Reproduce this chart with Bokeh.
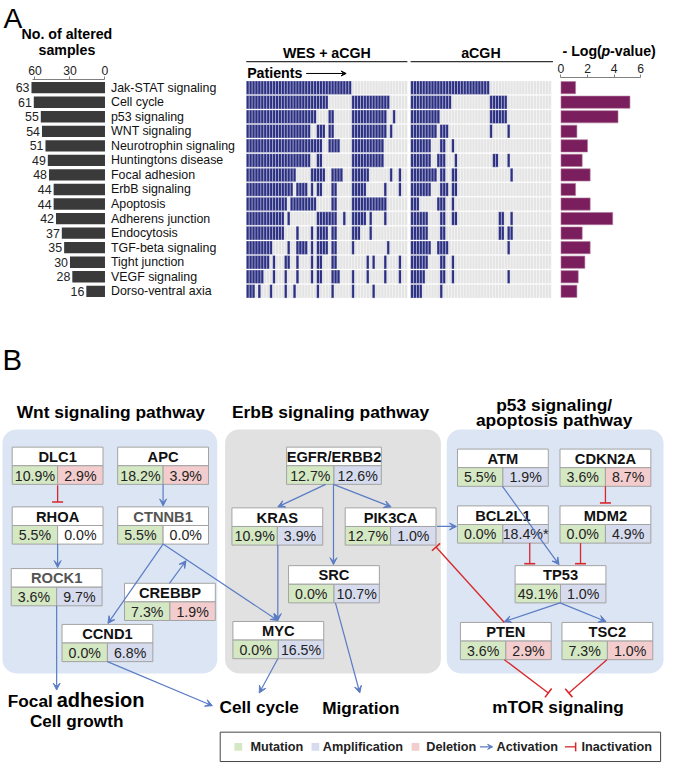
from bokeh.plotting import figure
from bokeh.models import Range1d, LinearAxis, FixedTicker, BoxAnnotation, Arrow, VeeHead, TeeHead
from bokeh.core.properties import value
from bokeh.embed import file_html
from bokeh.resources import INLINE

# ---------------- data: panel A ----------------
pathways = ["Jak-STAT signaling", "Cell cycle", "p53 signaling", "WNT signaling",
            "Neurotrophin signaling", "Huntingtons disease", "Focal adhesion",
            "ErbB signaling", "Apoptosis", "Adherens junction", "Endocytosis",
            "TGF-beta signaling", "Tight junction", "VEGF signaling", "Dorso-ventral axia"]
altered_samples = [63, 61, 55, 54, 51, 49, 48, 44, 44, 42, 37, 35, 30, 28, 16]
neg_log_p = [1.1, 5.2, 4.3, 1.2, 2.0, 1.6, 2.2, 1.1, 2.2, 3.9, 1.6, 2.2, 1.8, 1.3, 1.2]
count_ticks = [0, 30, 60]
pvalue_ticks = [0, 2, 4, 6]
n_wes_samples = 55
n_acgh_samples = 48
# altered samples per pathway, as runs [start, end) of patient columns
wes_altered = [
    [(0, 36)],
    [(0, 28), (36, 49)],
    [(0, 24), (28, 30), (36, 48), (50, 51)],
    [(0, 22), (24, 27), (28, 30), (36, 48), (49, 50)],
    [(0, 26), (28, 32), (36, 47)],
    [(0, 22), (24, 26), (36, 47)],
    [(0, 17), (22, 27), (29, 33), (36, 42), (49, 50), (52, 53)],
    [(0, 16), (17, 21), (22, 23), (24, 26), (29, 31), (36, 41), (47, 48), (52, 53)],
    [(0, 14), (15, 24), (29, 31), (36, 48)],
    [(0, 13), (14, 15), (24, 31), (33, 34), (36, 41), (42, 43), (47, 48)],
    [(0, 13), (17, 18), (22, 23), (24, 28), (29, 31), (36, 39), (42, 43)],
    [(0, 9), (14, 15), (17, 21), (22, 23), (24, 28), (29, 31), (36, 37), (48, 49)],
    [(0, 8), (9, 10), (13, 15), (17, 18), (22, 23), (24, 26), (29, 31), (41, 42), (43, 44), (47, 48), (52, 53)],
    [(0, 6), (9, 10), (13, 14), (17, 18), (22, 23), (24, 26), (29, 32), (36, 37), (41, 42), (47, 48), (52, 53)],
    [(0, 3), (4, 5), (8, 9), (13, 14), (16, 17), (24, 25), (29, 30), (36, 37), (43, 44)],
]
acgh_altered = [
    [(0, 27)],
    [(0, 14), (27, 33)],
    [(0, 10), (27, 33)],
    [(0, 9), (10, 13), (27, 28), (33, 34)],
    [(0, 7), (10, 12), (14, 15)],
    [(0, 7), (9, 12), (15, 16), (28, 30), (33, 34)],
    [(0, 7), (7, 9), (10, 12), (14, 16), (34, 35)],
    [(0, 7), (10, 13), (14, 16)],
    [(0, 3), (9, 12), (14, 15)],
    [(0, 6), (10, 12), (14, 16), (30, 32), (34, 35)],
    [(0, 6), (10, 12), (30, 32), (33, 35)],
    [(0, 7), (9, 13), (33, 34)],
    [(0, 6), (10, 12), (14, 15)],
    [(0, 5), (10, 12), (14, 15), (33, 34)],
    [(0, 4), (10, 11)],
]

# ---------------- data: panel B ----------------
genes = ["DLC1", "APC", "RHOA", "CTNNB1", "ROCK1", "CREBBP", "CCND1",
         "EGFR/ERBB2", "KRAS", "PIK3CA", "SRC", "MYC",
         "ATM", "CDKN2A", "BCL2L1", "MDM2", "TP53", "PTEN", "TSC2"]
mutation_pct = [10.9, 18.2, 5.5, 5.5, 3.6, 7.3, 0.0,
                12.7, 10.9, 12.7, 0.0, 0.0,
                5.5, 3.6, 0.0, 0.0, 49.1, 3.6, 7.3]
cnv_pct = [2.9, 3.9, 0.0, 0.0, 9.7, 1.9, 6.8,
           12.6, 3.9, 1.0, 10.7, 16.5,
           1.9, 8.7, 18.4, 4.9, 1.0, 2.9, 1.0]
cnv_kind = ["del", "del", "none", "none", "amp", "del", "amp",
            "amp", "amp", "amp", "amp", "amp",
            "amp", "del", "amp", "amp", "amp", "del", "del"]
cnv_note = ["", "", "", "", "", "", "", "", "", "", "", "",
            "", "", "*", "", "", "", ""]
gene_text_color = ["#111", "#111", "#111", "#555", "#555", "#111", "#111",
                   "#111", "#111", "#111", "#111", "#111",
                   "#111", "#111", "#111", "#111", "#111", "#111", "#111"]
legend_items = ["Mutation", "Amplification", "Deletion", "Activation", "Inactivation"]
outcomes = ["Cell growth", "Cell cycle", "Migration", "mTOR signaling"]

# ---------------- layout (reference pixel frame 680 x 779) ----------------
K = 0.977
FONT = value("Liberation Sans")


def fs(px):
    return value(f"{px * K:.1f}px")


ROW0, PITCH = 89.0, 14.85          # pathway rows
CNT0, CNT_PX = 107.0, 1.195        # count axis
HX0, CW = 251.7, 3.0               # heatmap columns
ACGH_OFF = 56.1
PX0, P_PX = 574.0, 13.58           # -log p axis

NAVY = "#2c3082"
HEAT_BG = "#e4e4e4"
BAR_DARK = "#3a3a3a"
PURPLE = "#7b1e5d"
PANEL_BLUE = "#dce5f3"
PANEL_GRAY = "#e1e1e1"
MUT = "#d5e8c4"
AMP = "#d6dcee"
DEL = "#f3cdcd"
BLUE = "#5a7cc4"
RED = "#d8262a"
BORDER = "#a3a3a3"

p = figure(width=664, height=763, x_range=Range1d(0, 680), y_range=Range1d(779, 0),
           output_backend="svg", toolbar_location=None,
           x_axis_location=None, y_axis_location=None, min_border=0,
           outline_line_color=None, background_fill_color="white")
p.grid.visible = False

p.extra_x_ranges = {
    "cnt": Range1d(CNT0 / CNT_PX, (CNT0 - 680) / CNT_PX),
    "col": Range1d(-HX0 / CW, (680 - HX0) / CW),
    "pval": Range1d(-PX0 / P_PX, (680 - PX0) / P_PX),
}
p.extra_y_ranges = {"row": Range1d((779 - ROW0) / PITCH, -ROW0 / PITCH)}

rows = list(range(len(pathways)))
MID = "middle"

# ---------------- panel A ----------------
p.text(x=[3], y=[18], text=["A"], text_font=FONT, text_font_size=fs(29), text_color="black",
       text_baseline=MID)
p.text(x=[68, 68], y=[34.5, 50.5], text=["No. of altered", "samples"], text_font=FONT,
       text_font_size=fs(14.5), text_font_style="bold", text_align="center", text_baseline=MID)

p.hbar(y=rows, left=0, right=altered_samples, height=0.78, x_range_name="cnt",
       y_range_name="row", fill_color=BAR_DARK, line_color=None)
p.text(x=altered_samples, y=rows, text=[str(c) for c in altered_samples], x_range_name="cnt",
       y_range_name="row", x_offset=-2, text_align="right", text_baseline=MID,
       text_font=FONT, text_font_size=fs(12.7), text_color="#222")
p.text(x=[0] * len(rows), y=rows, text=pathways, x_range_name="cnt", y_range_name="row",
       x_offset=6, text_align="left", text_baseline=MID, text_font=FONT,
       text_font_size=fs(12.7), text_color="#111")

cnt_axis = LinearAxis(x_range_name="cnt", ticker=FixedTicker(ticks=count_ticks),
                      fixed_location=81, bounds=(0, 62.5))
pval_axis = LinearAxis(x_range_name="pval", ticker=FixedTicker(ticks=pvalue_ticks),
                       fixed_location=79, bounds=(0, 6))
for ax in (cnt_axis, pval_axis):
    ax.axis_line_color = "#808080"
    ax.major_tick_line_color = "#808080"
    ax.major_tick_out = 3
    ax.major_tick_in = 0
    ax.minor_tick_out = 0
    ax.minor_tick_in = 0
    ax.major_label_standoff = 2
    ax.major_label_text_font = "Liberation Sans"
    ax.major_label_text_font_size = f"{12.5 * K:.1f}px"
    ax.major_label_text_color = "#222"
    p.add_layout(ax, "above")

# heatmap
hx, hy, hc = [], [], []
for i in rows:
    ws = set()
    for a, b in wes_altered[i]:
        ws.update(range(a, b))
    for j in range(n_wes_samples):
        hx.append(j + 0.5)
        hy.append(i)
        hc.append(NAVY if j in ws else HEAT_BG)
    acs = set()
    for a, b in acgh_altered[i]:
        acs.update(range(a, b))
    for j in range(n_acgh_samples):
        hx.append(ACGH_OFF + j + 0.5)
        hy.append(i)
        hc.append(NAVY if j in acs else HEAT_BG)
p.rect(x=hx, y=hy, width=1, height=0.93, x_range_name="col", y_range_name="row",
       fill_color=hc, line_color="white", line_width=0.45, line_alpha=0.75)

p.segment(x0=[0, ACGH_OFF], x1=[n_wes_samples, ACGH_OFF + n_acgh_samples + 0.6],
          y0=[62.5, 62.5], y1=[62.5, 62.5], x_range_name="col", line_color="black",
          line_width=1)
p.text(x=[n_wes_samples / 2, ACGH_OFF + n_acgh_samples / 2], y=[54, 54],
       text=["WES + aCGH", "aCGH"], x_range_name="col", text_align="center",
       text_font=FONT, text_font_size=fs(14.5), text_font_style="bold", text_baseline=MID)
p.text(x=[0.3], y=[74.3], text=["Patients"], x_range_name="col", text_font=FONT,
       text_font_size=fs(14.5), text_font_style="bold", text_baseline=MID)
p.add_layout(Arrow(end=VeeHead(size=5, fill_color="black", line_color="black", line_width=1),
                   x_start=313, y_start=74.5, x_end=354, y_end=74.5, line_color="black",
                   line_width=1))

# -log p bars
p.hbar(y=rows, left=0, right=neg_log_p, height=0.84, x_range_name="pval",
       y_range_name="row", fill_color=PURPLE, line_color="#b07a9c", line_width=0.6)
p.text(x=[575.5], y=[51.5], text=["- Log("], text_font=FONT, text_font_size=fs(14.5),
       text_font_style="bold", text_baseline=MID)
p.text(x=[615.4], y=[51.5], text=["p"], text_font=FONT, text_font_size=fs(14.5),
       text_font_style="bold italic", text_baseline=MID)
p.text(x=[624.3], y=[51.5], text=["-value)"], text_font=FONT, text_font_size=fs(14.5),
       text_font_style="bold", text_baseline=MID)

# ---------------- panel B ----------------
p.text(x=[2], y=[367], text=["B"], text_font=FONT, text_font_size=fs(30), text_baseline=MID)

for (l, r, fc) in [(2, 222, PANEL_BLUE), (230, 451, PANEL_GRAY), (457, 679, PANEL_BLUE)]:
    p.add_layout(BoxAnnotation(left=l, right=r, top=438, bottom=687, fill_color=fc,
                               fill_alpha=1, line_color=None, border_radius=14,
                               level="underlay"))

p.text(x=[113, 338, 567, 567], y=[420, 420, 412.5, 428],
       text=["Wnt signaling pathway", "ErbB signaling pathway", "p53 signaling/",
             "apoptosis pathway"],
       text_align="center", text_font=FONT, text_font_size=fs(17.8),
       text_font_style="bold", text_baseline=MID)

box_left = [12, 120, 12, 120, 11, 127, 63, 293, 237, 353, 295, 238,
            468, 573, 468, 573, 527, 471, 575]
box_top = [456, 456, 517, 517, 580, 595, 637, 456, 518, 518, 577, 634,
           458, 458, 516, 516, 577, 635, 635]
box_w = [93] * len(genes)
box_w[genes.index("EGFR/ERBB2")] = 97
NH, PH = 19, 19

kind_color = {"amp": AMP, "del": DEL, "none": "white"}
bl = box_left
br = [l + w for l, w in zip(box_left, box_w)]
bm = [l + w / 2 for l, w in zip(box_left, box_w)]
nt = box_top
nb = [t + NH for t in box_top]
pb = [t + NH + PH for t in box_top]

p.quad(left=bl, right=br, top=nt, bottom=nb, fill_color="white", line_color=BORDER,
       line_width=1)
p.quad(left=bl, right=bm, top=nb, bottom=pb, fill_color=MUT, line_color=BORDER,
       line_width=1)
p.quad(left=bm, right=br, top=nb, bottom=pb, fill_color=[kind_color[k] for k in cnv_kind],
       line_color=BORDER, line_width=1)
p.text(x=[(l + r) / 2 for l, r in zip(bl, br)], y=[t + NH / 2 + 0.5 for t in nt], text=genes,
       text_align="center", text_baseline=MID, text_font=FONT,
       text_font_size=fs(15), text_font_style="bold", text_color=gene_text_color)
p.text(x=[(l + m) / 2 for l, m in zip(bl, bm)], y=[b + PH / 2 + 0.5 for b in nb],
       text=[f"{v:.1f}%" for v in mutation_pct], text_align="center",
       text_baseline=MID, text_font=FONT, text_font_size=fs(14.5), text_color="#222")
p.text(x=[(m + r) / 2 for m, r in zip(bm, br)], y=[b + PH / 2 + 0.5 for b in nb],
       text=[f"{v:.1f}%{n}" for v, n in zip(cnv_pct, cnv_note)], text_align="center",
       text_baseline=MID, text_font=FONT, text_font_size=fs(14.5), text_color="#222")

# outcomes
p.text(x=[7.5], y=[715.2], text=["Focal"], text_align="left", text_font=FONT,
       text_font_size=fs(17.6), text_font_style="bold", text_baseline=MID)
p.text(x=[57.5], y=[714.2], text=["adhesion"], text_align="left", text_font=FONT,
       text_font_size=fs(20.5), text_font_style="bold", text_baseline=MID)
p.text(x=[78, 265, 369, 571], y=[736, 721.5, 722, 721.5], text=outcomes, text_align="center",
       text_font=FONT, text_font_size=fs(17.6), text_font_style="bold", text_baseline=MID)

# links: (kind, x0, y0, x1, y1)
links = [
    ("act", 166.5, 494, 166.5, 516),
    ("inh", 58.5, 495, 58.5, 512),
    ("act", 58.5, 555, 58.5, 579),
    ("act", 166.5, 555, 284, 633),
    ("act", 166.5, 555, 110, 636),
    ("act", 173, 595, 190, 572),
    ("act", 57.5, 618, 57.5, 704),
    ("act", 109.5, 675, 217, 720),
    ("act", 333, 494, 284, 517),
    ("act", 341, 494, 400, 517),
    ("act", 341, 494, 341, 576),
    ("act", 284, 556, 284, 633),
    ("act", 343, 615, 368, 707),
    ("act", 284, 672, 265, 707),
    ("act", 447, 537, 467, 537),
    ("inh", 516, 635, 446, 558),
    ("act", 514, 496, 572, 576),
    ("inh", 619.5, 496, 619.5, 513),
    ("inh", 542, 554, 542, 575),
    ("inh", 594, 554, 594, 575),
    ("act", 573, 615, 516, 634),
    ("act", 573, 615, 620, 634),
    ("inh", 516, 673, 561, 707),
    ("inh", 621, 673, 582, 707),
]
for kind, x0, y0, x1, y1 in links:
    if kind == "act":
        head = VeeHead(size=7, fill_color=BLUE, line_color=BLUE, line_width=1)
        col, lw = BLUE, 1.2
    else:
        head = TeeHead(size=11, line_color=RED, line_width=1.6)
        col, lw = RED, 1.3
    p.add_layout(Arrow(end=head, x_start=x0, y_start=y0, x_end=x1, y_end=y1,
                       line_color=col, line_width=lw))

# legend
p.quad(left=[225], right=[676], top=[747], bottom=[777], fill_color="white",
       line_color="#444", line_width=1)
p.quad(left=[239.5, 318.5, 421], right=[247.5, 326.5, 429], top=[758, 758, 758],
       bottom=[766, 766, 766], fill_color=[MUT, AMP, DEL], line_color=None)
p.text(x=[256, 330, 436, 508, 595], y=[762.5] * 5, text=legend_items, text_baseline=MID,
       text_font=FONT, text_font_size=fs(13), text_font_style="bold", text_color="#222")
p.add_layout(Arrow(end=VeeHead(size=5, fill_color=BLUE, line_color=BLUE, line_width=1),
                   x_start=491, y_start=762, x_end=504, y_end=762, line_color=BLUE,
                   line_width=1.2))
p.add_layout(Arrow(end=TeeHead(size=9, line_color=RED, line_width=1.5),
                   x_start=578, y_start=762, x_end=589, y_end=762, line_color=RED,
                   line_width=1.3))

open("out.html", "w").write(file_html(p, INLINE))
